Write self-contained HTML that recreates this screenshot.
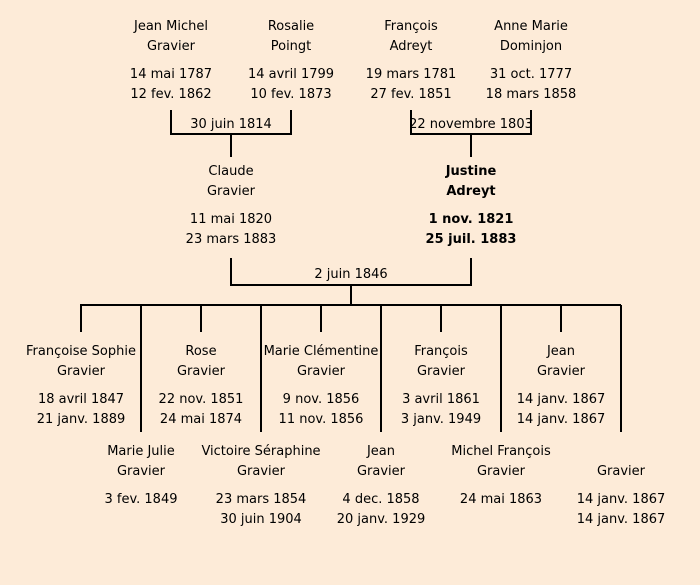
<!DOCTYPE html>
<html><head><meta charset="utf-8"><style>
body{margin:0;background:#fdebd8;}
#c{position:relative;width:700px;height:585px;background:#fdebd8;font-family:"DejaVu Sans","Liberation Sans",sans-serif;font-size:13px;color:#000;overflow:hidden}
.t{position:absolute;width:180px;margin-left:-90px;text-align:center;white-space:nowrap;line-height:20px}
.b{font-weight:bold}
svg{position:absolute;left:0;top:0}
</style></head><body><div id="c">
<svg width="700" height="585"><g stroke="#000" stroke-width="2" fill="none">
<path d="M171 110V134H291V110M231 134V157"/>
<path d="M411 110V134H531V110M471 134V157"/>
<path d="M231 258V285H471V258M351 285V305"/>
<path d="M80 305H621"/>
<path d="M81 305V332M201 305V332M321 305V332M441 305V332M561 305V332"/>
<path d="M141 305V432M261 305V432M381 305V432M501 305V432M621 305V432"/>
</g></svg>
<div class="t" style="left:171px;top:17px">Jean Michel<br>Gravier</div>
<div class="t" style="left:171px;top:65px">14 mai 1787<br>12 fev. 1862</div>
<div class="t" style="left:291px;top:17px">Rosalie<br>Poingt</div>
<div class="t" style="left:291px;top:65px">14 avril 1799<br>10 fev. 1873</div>
<div class="t" style="left:411px;top:17px">François<br>Adreyt</div>
<div class="t" style="left:411px;top:65px">19 mars 1781<br>27 fev. 1851</div>
<div class="t" style="left:531px;top:17px">Anne Marie<br>Dominjon</div>
<div class="t" style="left:531px;top:65px">31 oct. 1777<br>18 mars 1858</div>
<div class="t" style="left:231px;top:115px">30 juin 1814</div>
<div class="t" style="left:471px;top:115px">22 novembre 1803</div>
<div class="t" style="left:231px;top:162px">Claude<br>Gravier</div>
<div class="t" style="left:231px;top:210px">11 mai 1820<br>23 mars 1883</div>
<div class="t b" style="left:471px;top:162px">Justine<br>Adreyt</div>
<div class="t b" style="left:471px;top:210px">1 nov. 1821<br>25 juil. 1883</div>
<div class="t" style="left:351px;top:265px">2 juin 1846</div>
<div class="t" style="left:81px;top:342px">Françoise Sophie<br>Gravier</div>
<div class="t" style="left:81px;top:390px">18 avril 1847<br>21 janv. 1889</div>
<div class="t" style="left:201px;top:342px">Rose<br>Gravier</div>
<div class="t" style="left:201px;top:390px">22 nov. 1851<br>24 mai 1874</div>
<div class="t" style="left:321px;top:342px">Marie Clémentine<br>Gravier</div>
<div class="t" style="left:321px;top:390px">9 nov. 1856<br>11 nov. 1856</div>
<div class="t" style="left:441px;top:342px">François<br>Gravier</div>
<div class="t" style="left:441px;top:390px">3 avril 1861<br>3 janv. 1949</div>
<div class="t" style="left:561px;top:342px">Jean<br>Gravier</div>
<div class="t" style="left:561px;top:390px">14 janv. 1867<br>14 janv. 1867</div>
<div class="t" style="left:141px;top:442px">Marie Julie<br>Gravier</div>
<div class="t" style="left:141px;top:490px">3 fev. 1849</div>
<div class="t" style="left:261px;top:442px">Victoire Séraphine<br>Gravier</div>
<div class="t" style="left:261px;top:490px">23 mars 1854<br>30 juin 1904</div>
<div class="t" style="left:381px;top:442px">Jean<br>Gravier</div>
<div class="t" style="left:381px;top:490px">4 dec. 1858<br>20 janv. 1929</div>
<div class="t" style="left:501px;top:442px">Michel François<br>Gravier</div>
<div class="t" style="left:501px;top:490px">24 mai 1863</div>
<div class="t" style="left:621px;top:462px">Gravier</div>
<div class="t" style="left:621px;top:490px">14 janv. 1867<br>14 janv. 1867</div>
</div></body></html>
